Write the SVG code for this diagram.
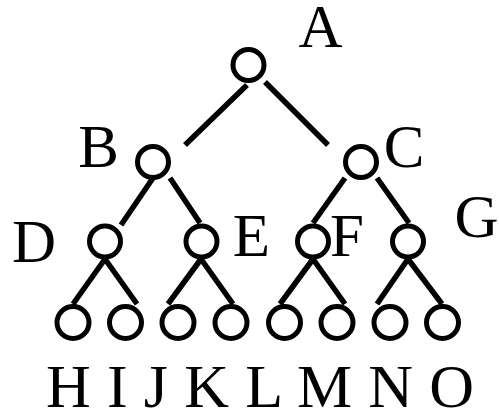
<svg xmlns="http://www.w3.org/2000/svg" width="499" height="411" viewBox="0 0 499 411">
<style>
.n{fill:#fff;stroke:#000;stroke-width:5}
.e{stroke:#000;stroke-width:5.5;fill:none}
text{font-family:'Liberation Serif','Times New Roman',serif;font-size:61px;fill:#000;text-anchor:middle}
</style>
<rect width="499" height="411" fill="#fff"/>
<g id="connectors" class="e">
<line x1="247" y1="85" x2="185" y2="145"/>
<line x1="265" y1="82" x2="328" y2="145"/>
<line x1="153" y1="178" x2="121" y2="225"/>
<line x1="170" y1="178" x2="200" y2="223"/>
<line x1="345" y1="178" x2="313" y2="223"/>
<line x1="377" y1="178" x2="409" y2="223"/>
<line x1="105" y1="259" x2="73" y2="304"/>
<line x1="105" y1="259" x2="137" y2="304"/>
<line x1="201" y1="259" x2="168" y2="304"/>
<line x1="201" y1="259" x2="233" y2="304"/>
<line x1="313" y1="259" x2="280" y2="304"/>
<line x1="313" y1="259" x2="345" y2="304"/>
<line x1="408" y1="259" x2="377" y2="304"/>
<line x1="408" y1="259" x2="442" y2="304"/>
</g>
<g id="A"><circle class="n" cx="248.5" cy="65" r="15.5"/><text x="320.5" y="47">A</text></g>
<g id="B"><circle class="n" cx="153" cy="162" r="15.5"/><text x="98.5" y="167">B</text></g>
<g id="C"><circle class="n" cx="361" cy="162" r="15.5"/><text x="404" y="167">C</text></g>
<g id="D"><circle class="n" cx="105" cy="241.5" r="15.5"/><text x="34" y="262">D</text></g>
<g id="E"><circle class="n" cx="201.5" cy="241.5" r="15.5"/><text x="251.5" y="256">E</text></g>
<g id="F"><circle class="n" cx="313" cy="241.5" r="15.5"/><text x="347" y="256">F</text></g>
<g id="G"><circle class="n" cx="408" cy="241.5" r="15.5"/><text x="476.5" y="237">G</text></g>
<g id="leaves">
<circle class="n" cx="73" cy="322.5" r="16"/>
<circle class="n" cx="125.5" cy="322.5" r="16"/>
<circle class="n" cx="178" cy="322.5" r="16"/>
<circle class="n" cx="231" cy="322.5" r="16"/>
<circle class="n" cx="284.5" cy="322.5" r="16"/>
<circle class="n" cx="337" cy="322.5" r="16"/>
<circle class="n" cx="390" cy="322.5" r="16"/>
<circle class="n" cx="442.5" cy="322.5" r="16"/>
</g>
<g id="leaf-labels"><text style="text-anchor:start;font-size:62px" x="46" y="407" textLength="428" lengthAdjust="spacing">H I J K L M N O</text></g>
</svg>
